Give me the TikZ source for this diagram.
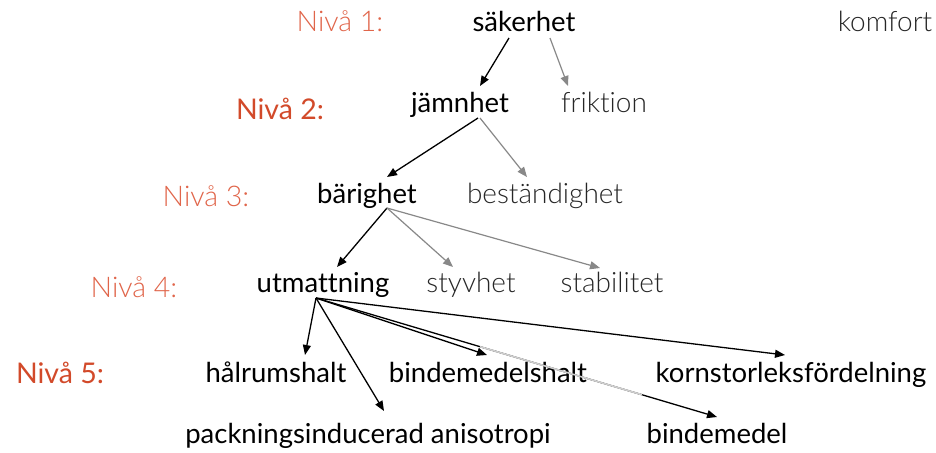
\documentclass[tikz,border=0pt]{standalone}
\usepackage{fontspec}
\setmainfont{Lato}[Ligatures=NoCommon]
\newfontfamily\lightfont{Lato Light}[Ligatures=NoCommon]
\usetikzlibrary{calc,arrows.meta}
\definecolor{lvlA}{HTML}{E0654A}
\definecolor{lvlB}{HTML}{D24A2A}
\definecolor{txtgray}{HTML}{262626}
\definecolor{arrgray}{HTML}{888888}
\definecolor{fadegray}{HTML}{CFCFCF}
\tikzset{
  every node/.style={anchor=base, inner sep=0pt},
  main/.style={font=\fontsize{27.5}{30}\selectfont, text=black},
  side/.style={font=\lightfont\fontsize{28}{30}\selectfont, text=txtgray},
  lvllight/.style={font=\lightfont\fontsize{28.5}{30}\selectfont, text=lvlA},
  lvlstrong/.style={font=\fontsize{28.5}{30}\selectfont, text=lvlB},
  blk/.style={draw=black, line width=1.3pt, -{Triangle[length=10pt,width=8pt]}},
  gry/.style={draw=arrgray, line width=1.2pt, -{Triangle[length=10pt,width=8pt]}, arrgray}
}
\begin{document}
\begin{tikzpicture}[x=1pt,y=-1pt]
\useasboundingbox (0,0) rectangle (936,452);
% level labels
\node[lvllight]  (n1) at (340,32) {Nivå 1:};
\node[lvlstrong] (n2) at (280,119) {Nivå 2:};
\node[lvllight]  (n3) at (206,206) {Nivå 3:};
\node[lvllight]  (n4) at (134,297) {Nivå 4:};
\node[lvlstrong] (n5) at (60,383) {Nivå 5:};
% nodes
\node[main] (sak) at (524,32) {säkerhet};
\node[side] (kom) at (885,32) {komfort};
\node[main] (jam) at (460,112) {jämnhet};
\node[side] (frik) at (604,112) {friktion};
\node[main] (bar) at (367,203) {bärighet};
\node[side] (best) at (545,203) {beständighet};
\node[main] (utm) at (323,292) {utmattning};
\node[side] (styv) at (471,292) {styvhet};
\node[side] (stab) at (612,292) {stabilitet};
\node[main] (hal) at (276,382) {hålrumshalt};
\node[main] (bmh) at (488,382) {bindemedelshalt};
\node[main] (korn) at (791,382) {kornstorleksfördelning};
\node[main] (pack) at (368,443) {packningsinducerad anisotropi};
\node[main] (bm) at (717,443) {bindemedel};
% connectors
\draw[blk] ($(sak.base)+(-15,6)$) -- ($(jam.base)+(20,-26)$);
\draw[gry] ($(sak.base)+(26,6)$) -- ($(frik.base)+(-36,-26)$);
\draw[blk] ($(jam.base)+(18,6)$) -- ($(bar.base)+(20,-26)$);
\draw[gry] ($(jam.base)+(20,6)$) -- ($(best.base)+(-18,-26)$);
\coordinate (b0) at ($(bar.base)+(20,5)$);
\draw[blk] (b0) -- ($(utm.base)+(14,-25)$);
\draw[gry] (b0) -- ($(styv.base)+(-18,-25)$);
\draw[gry] (b0) -- ($(stab.base)+(-12,-24)$);
\coordinate (u0) at ($(utm.base)+(-7,6)$);
\coordinate (bmtip) at ($(bm.base)+(0,-26)$);
\draw[blk] (u0) -- ($(hal.base)+(29,-27)$);
\draw[blk] (u0) -- ($(pack.base)+(16,-32)$);
\draw[blk] (u0) -- ($(bmh.base)+(-1,-27)$);
\draw[blk] (u0) -- ($(korn.base)+(-6,-27)$);
\draw[blk] (u0) -- (bmtip);
\draw[draw=fadegray, line width=1.6pt] ($(u0)!0.409!(bmtip)$) -- ($(u0)!0.813!(bmtip)$);
\end{tikzpicture}
\end{document}
